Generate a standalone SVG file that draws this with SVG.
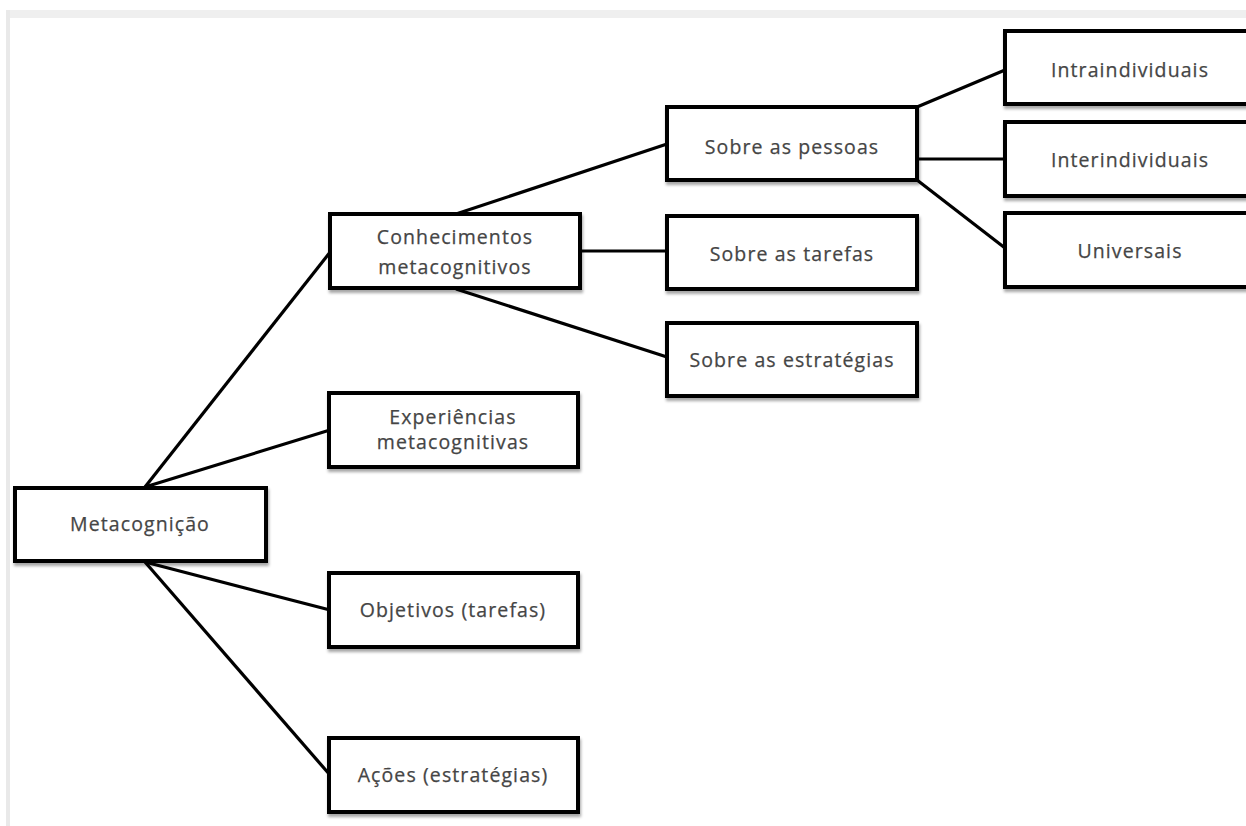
<svg xmlns="http://www.w3.org/2000/svg" width="1246" height="826" viewBox="0 0 1246 826">
<defs>
<filter id="sh" x="-5%" y="-10%" width="115%" height="130%">
<feDropShadow dx="1" dy="3" stdDeviation="1.5" flood-color="#000" flood-opacity="0.35"/>
</filter>
</defs>
<style>
.box{fill:#fff;stroke:#000;stroke-width:4;filter:url(#sh)}
.t{font-family:"Open Sans","Noto Sans",sans-serif;font-size:19.5px;letter-spacing:1.1px;fill:#454545;stroke:#454545;stroke-width:0.25;text-anchor:middle}
.c{stroke:#000;stroke-width:3.2;fill:none}
</style>
<rect width="1246" height="826" fill="#fff"/>
<rect x="6" y="10" width="1240" height="8" fill="#efefef"/>
<rect x="6" y="10" width="4" height="816" fill="#e9e9e9"/>
<g id="connectors">
<line class="c" x1="145" y1="487" x2="331" y2="251"/>
<line class="c" x1="145" y1="487" x2="330" y2="430"/>
<line class="c" x1="145" y1="562" x2="330" y2="610"/>
<line class="c" x1="145" y1="562" x2="330" y2="775"/>
<line class="c" x1="456" y1="214" x2="667" y2="144"/>
<line class="c" x1="580" y1="251" x2="667" y2="251"/>
<line class="c" x1="456" y1="289" x2="667" y2="357"/>
<line class="c" x1="917" y1="107" x2="1005" y2="70"/>
<line class="c" x1="917" y1="159" x2="1005" y2="159"/>
<line class="c" x1="917" y1="180" x2="1005" y2="248"/>
</g>
<g id="metacognicao"><rect class="box" x="15" y="488" width="251" height="73"/><text class="t" x="140" y="531">Metacognição</text></g>
<g id="conhecimentos"><rect class="box" x="330" y="214" width="250" height="74"/><text class="t" x="455" y="244">Conhecimentos</text><text class="t" x="455" y="274">metacognitivos</text></g>
<g id="experiencias"><rect class="box" x="329" y="393" width="249" height="74"/><text class="t" x="453" y="424">Experiências</text><text class="t" x="453" y="449">metacognitivas</text></g>
<g id="objetivos"><rect class="box" x="329" y="573" width="249" height="74"/><text class="t" x="453" y="617">Objetivos (tarefas)</text></g>
<g id="acoes"><rect class="box" x="329" y="738" width="249" height="74"/><text class="t" x="453" y="782">Ações (estratégias)</text></g>
<g id="pessoas"><rect class="box" x="667" y="107" width="250" height="73"/><text class="t" x="792" y="154">Sobre as pessoas</text></g>
<g id="tarefas"><rect class="box" x="667" y="216" width="250" height="73"/><text class="t" x="792" y="261">Sobre as tarefas</text></g>
<g id="estrategias"><rect class="box" x="667" y="323" width="250" height="73"/><text class="t" x="792" y="367">Sobre as estratégias</text></g>
<g id="intra"><rect class="box" x="1005" y="31" width="252" height="73"/><text class="t" x="1130" y="77">Intraindividuais</text></g>
<g id="inter"><rect class="box" x="1005" y="122" width="252" height="74"/><text class="t" x="1130" y="167">Interindividuais</text></g>
<g id="universais"><rect class="box" x="1005" y="213" width="252" height="74"/><text class="t" x="1130" y="258">Universais</text></g>
</svg>
